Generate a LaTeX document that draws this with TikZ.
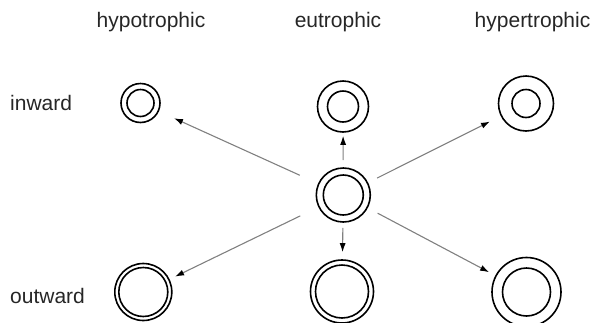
\documentclass[tikz,border=0pt]{standalone}
\usepackage{fontspec}
\setmainfont{Liberation Sans}
\usetikzlibrary{arrows.meta}

\tikzset{
  ring/.style={draw, circle, line width=1.6pt, inner sep=0pt, minimum size=#1},
  innerring/.style={line width=1.6pt},
  growth/.style={draw=black!50, line width=1.1pt, -{Latex[length=9pt,width=6pt,color=black]}},
  lbl/.style={font=\fontsize{21}{25}\selectfont, text=black!85, inner sep=0pt},
}

\begin{document}
\begin{tikzpicture}[x=1pt, y=-1pt]

%\draw[step=20pt,color=gray!30] (0,0) grid (597,322);
\useasboundingbox (0,0) rectangle (597,322);
\clip (0,0) rectangle (597,322);

\node[lbl, anchor=base] (hypo) at (151,27) {hypotrophic};
\node[lbl, anchor=base] (eu) at (338,27) {eutrophic};
\node[lbl, anchor=base] (hyper) at (532.5,27) {hypertrophic};
\node[lbl, anchor=base west] (inw) at (10,110) {inward};
\node[lbl, anchor=base west] (outw) at (10,303) {outward};

\node[ring=39pt] (hypo-in) at (140.5,103) {};
\node[ring=51pt] (eu-in) at (343,106.5) {};
\node[ring=55pt] (hyper-in) at (526,103.5) {};
\node[ring=54pt] (normal) at (343.3,195) {};
\node[ring=57pt] (hypo-out) at (143.3,292) {};
\node[ring=63pt] (eu-out) at (342,291.5) {};
\node[ring=69pt] (hyper-out) at (526.5,292) {};

\draw[innerring] (hypo-in) circle[radius=13.5pt];
\draw[innerring] (eu-in) circle[radius=15.5pt];
\draw[innerring] (hyper-in) circle[radius=14pt];
\draw[innerring] (normal) circle[radius=20pt];
\draw[innerring] (hypo-out) circle[radius=24.5pt];
\draw[innerring] (eu-out) circle[radius=26.5pt];
\draw[innerring] (hyper-out) circle[radius=24pt];

\draw[growth, shorten <=20pt, shorten >=16.5pt] (normal) -- (hypo-in);
\draw[growth, shorten <=20pt, shorten >=6pt] (normal) -- (hypo-out);
\draw[growth, shorten <=10pt, shorten >=12pt] (normal) -- (hyper-in);
\draw[growth, shorten <=11pt, shorten >=7pt] (normal) -- (hyper-out);
\draw[growth, shorten <=7pt, shorten >=3pt] (normal) -- (eu-in);
\draw[growth, shorten <=5pt, shorten >=7pt] (normal) -- (eu-out);

\end{tikzpicture}
\end{document}
